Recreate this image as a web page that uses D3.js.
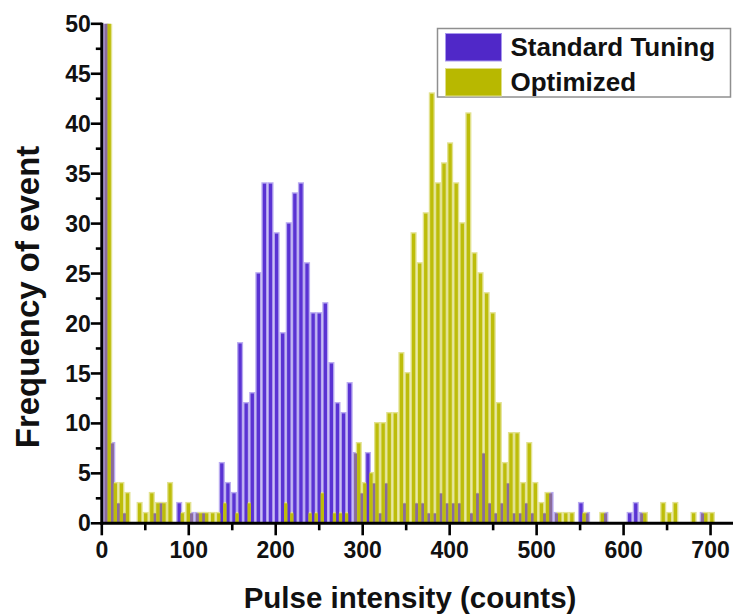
<!DOCTYPE html>
<html>
<head>
<meta charset="utf-8">
<script src="https://cdn.jsdelivr.net/npm/d3@7"></script>
<style>
  html, body { margin: 0; padding: 0; background: #fff; }
  svg { display: block; font-family: "Liberation Sans", Arial, Helvetica, sans-serif; }
</style>
</head>
<body>
<svg id="chart" width="733" height="615"></svg>
<script>
// ---- data (histogram counts, bin width 7 counts) ----
const binWidth = 7;
const seriesNames = ["Standard Tuning", "Optimized"];
const standardCounts = [
  50, 8, 2, 1, 0, 0, 0, 0, 1, 2,
  0, 0, 2, 0, 1, 1, 1, 0, 0, 6,
  4, 3, 18, 12, 13, 25, 34, 34, 29, 19,
  30, 33, 34, 26, 21, 21, 22, 16, 12, 11,
  14, 7, 3, 7, 4, 1, 4, 0, 0, 2,
  0, 2, 2, 1, 1, 3, 2, 2, 2, 0,
  1, 3, 7, 2, 1, 2, 4, 1, 1, 2,
  1, 0, 1, 3, 1, 0, 0, 0, 2, 1,
  0, 0, 1, 0, 0, 0, 1, 2, 1, 0,
  0, 0, 0, 0, 0, 0, 0, 0, 1, 0
];
const optimizedCounts = [
  50, 4, 4, 3, 0, 2, 1, 3, 2, 2,
  4, 0, 1, 2, 0, 1, 1, 1, 1, 2,
  0, 1, 0, 2, 0, 0, 0, 0, 0, 2,
  1, 0, 0, 1, 1, 3, 0, 1, 1, 1,
  0, 8, 4, 5, 10, 10, 11, 11, 17, 15,
  29, 26, 31, 43, 34, 36, 38, 34, 30, 41,
  27, 25, 23, 21, 12, 6, 9, 9, 4, 8,
  4, 2, 3, 0, 1, 1, 1, 0, 1, 0,
  0, 1, 0, 0, 0, 0, 0, 0, 1, 0,
  0, 2, 1, 2, 0, 0, 1, 0, 1, 1
];
const xTicks = [0, 100, 200, 300, 400, 500, 600, 700];
const xMinorTicks = [50, 150, 250, 350, 450, 550, 650];
const yTicks = [0, 5, 10, 15, 20, 25, 30, 35, 40, 45, 50];
const yMinorTicks = [2.5, 7.5, 12.5, 17.5, 22.5, 27.5, 32.5, 37.5, 42.5, 47.5];

// ---- layout ----
const svg = d3.select("#chart");
const x = d3.scaleLinear().domain([0, 725]).range([101.8, 732.3]);
const y = d3.scaleLinear().domain([0, 50]).range([523.3, 23.8]);

const colors = {
  stdCore: "#5a33d3", stdMuted: "#8a6c9c", stdHalo: "#b9abf0",
  optCore: "#bdbd0a", optHalo: "#e2e290"
};

const binPx = x(binWidth) - x(0);
const coreW = binPx * 0.55;
const haloW = binPx * 1.0;
const capPx = 1.4;

const stdData = standardCounts.map((c, i) => ({
  v: c, cx: i * binWidth + 5,
  // hidden among taller neighbouring "Optimized" bars -> blended tone
  muted: c <= Math.max(optimizedCounts[i - 1] || 0, optimizedCounts[i] || 0)
}));
const optData = optimizedCounts.map((c, i) => ({ v: c, cx: i * binWidth + 8.5 }));

const bars = svg.append("g");
function drawHalo(data, color) {
  bars.append("g").selectAll("rect").data(data.filter(d => d.v > 0)).join("rect")
    .attr("x", d => x(d.cx) - haloW / 2)
    .attr("width", haloW)
    .attr("y", d => Math.max(y(d.v) - capPx, y(50)))
    .attr("height", d => y(0) - Math.max(y(d.v) - capPx, y(50)))
    .attr("fill", color);
}
function drawCore(data, colorFn) {
  bars.append("g").selectAll("rect").data(data.filter(d => d.v > 0)).join("rect")
    .attr("x", d => x(d.cx) - coreW / 2)
    .attr("width", coreW)
    .attr("y", d => y(d.v))
    .attr("height", d => y(0) - y(d.v))
    .attr("fill", colorFn);
}
drawHalo(stdData, colors.stdHalo);
drawHalo(optData, colors.optHalo);
drawCore(stdData, d => d.muted ? colors.stdMuted : colors.stdCore);
drawCore(optData, () => colors.optCore);

// ---- axes ----
const axisColor = "#000";
const xAxisG = svg.append("g").attr("transform", `translate(0,${y(0)})`);
xAxisG.append("line").attr("x1", x(0) - 1.5).attr("x2", 733).attr("y1", 0).attr("y2", 0)
  .attr("stroke", axisColor).attr("stroke-width", 3);
xAxisG.selectAll("line.maj").data(xTicks).join("line").attr("class", "maj")
  .attr("x1", d => x(d)).attr("x2", d => x(d)).attr("y1", 0).attr("y2", 12)
  .attr("stroke", axisColor).attr("stroke-width", 2.6);
xAxisG.selectAll("line.min").data(xMinorTicks).join("line").attr("class", "min")
  .attr("x1", d => x(d)).attr("x2", d => x(d)).attr("y1", 0).attr("y2", 7)
  .attr("stroke", axisColor).attr("stroke-width", 2.6);
xAxisG.selectAll("text").data(xTicks).join("text")
  .attr("x", d => x(d)).attr("y", 35)
  .attr("text-anchor", "middle")
  .attr("font-size", 23).attr("font-weight", "bold").attr("fill", "#111")
  .text(d => d);

const yAxisG = svg.append("g").attr("transform", `translate(${x(0)},0)`);
yAxisG.append("line").attr("x1", 0).attr("x2", 0).attr("y1", y(0) + 1.5).attr("y2", y(50) - 1)
  .attr("stroke", axisColor).attr("stroke-width", 3);
yAxisG.selectAll("line.maj").data(yTicks).join("line").attr("class", "maj")
  .attr("x1", -11).attr("x2", 0).attr("y1", d => y(d)).attr("y2", d => y(d))
  .attr("stroke", axisColor).attr("stroke-width", 2.6);
yAxisG.selectAll("line.min").data(yMinorTicks).join("line").attr("class", "min")
  .attr("x1", -6).attr("x2", 0).attr("y1", d => y(d)).attr("y2", d => y(d))
  .attr("stroke", axisColor).attr("stroke-width", 2.6);
yAxisG.selectAll("text").data(yTicks).join("text")
  .attr("x", -11).attr("y", d => y(d))
  .attr("dy", "0.35em")
  .attr("text-anchor", "end")
  .attr("font-size", 23).attr("font-weight", "bold").attr("fill", "#111")
  .text(d => d);

// ---- axis titles ----
svg.append("text")
  .attr("x", 410).attr("y", 608)
  .attr("text-anchor", "middle")
  .attr("font-size", 29.5).attr("font-weight", "bold").attr("fill", "#111")
  .text("Pulse intensity (counts)");
svg.append("text")
  .attr("transform", `translate(38.5,${297}) rotate(-90)`)
  .attr("text-anchor", "middle")
  .attr("font-size", 33).attr("font-weight", "bold").attr("fill", "#111")
  .text("Frequency of event");

// ---- legend ----
const legend = svg.append("g");
legend.append("rect")
  .attr("x", 437.5).attr("y", 28.5).attr("width", 293).attr("height", 68.5)
  .attr("fill", "#fff").attr("stroke", "#8f8f8f").attr("stroke-width", 1.5);
const legendItems = [
  { name: seriesNames[0], fill: "#5028c8", edge: "#a898ee", y: 33.5 },
  { name: seriesNames[1], fill: "#b8b800", edge: "#dede88", y: 68.5 }
];
legendItems.forEach(it => {
  legend.append("rect").attr("x", 445.5).attr("y", it.y).attr("width", 56).attr("height", 27.5)
    .attr("fill", it.fill).attr("stroke", it.edge).attr("stroke-width", 1);
  legend.append("text").attr("x", 510.5).attr("y", it.y + 22.5)
    .attr("font-size", 26).attr("font-weight", "bold").attr("fill", "#111")
    .text(it.name);
});
</script>
</body>
</html>
